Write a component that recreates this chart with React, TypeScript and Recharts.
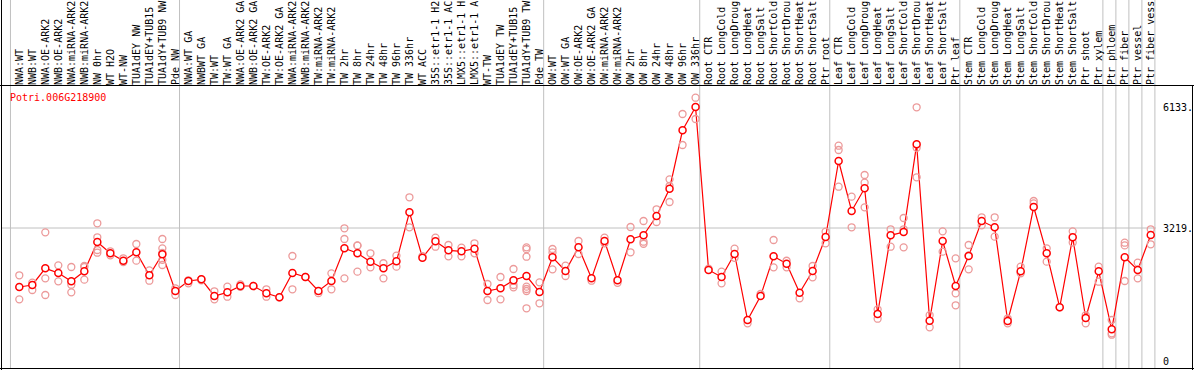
import React from 'react'
import { ComposedChart, Line, XAxis, YAxis, ReferenceLine } from 'recharts'

const geneId = 'Potri.006G218900'

// sample labels as far as the header shows them (14 characters at most)
const categories = [
  'NWA:WT', 'NWB:WT', 'NWA:OE-ARK2', 'NWB:OE-ARK2', 'NWA:miRNA-ARK2', 'NWB:miRNA-ARK2', 'NW 0hr', 'WT H2O', 'WT-NW',
  'TUA1dEY NW', 'TUA1dEY+TUB15', 'TUA1dY+TUB9 NW', 'Pde NW',
  'NWA:WT GA', 'NWBWT GA', 'TW:WT', 'TW:WT GA', 'NWA:OE-ARK2 GA', 'NWB:OE-ARK2 GA', 'TW:OE-ARK2', 'TW:OE-ARK2 GA',
  'NWA:miRNA-ARK2', 'NWB:miRNA-ARK2', 'TW:miRNA-ARK2', 'TW:miRNA-ARK2', 'TW 2hr', 'TW 8hr', 'TW 24hr', 'TW 48hr',
  'TW 96hr', 'TW 336hr', 'WT ACC', '35S::etr1-1 H2', '35S::etr1-1 AC', 'LMX5::etr1-1 H', 'LMX5::etr1-1 A', 'WT-TW',
  'TUA1dEY TW', 'TUA1dEY+TUB15', 'TUA1dY+TUB9 TW', 'Pde TW',
  'OW:WT', 'OW:WT GA', 'OW:OE-ARK2', 'OW:OE-ARK2 GA', 'OW:miRNA-ARK2', 'OW:miRNA-ARK2', 'OW 2hr', 'OW 8hr', 'OW 24hr',
  'OW 48hr', 'OW 96hr', 'OW 336hr',
  'Root CTR', 'Root LongCold', 'Root LongDroug', 'Root LongHeat', 'Root LongSalt', 'Root ShortCold', 'Root ShortDrou',
  'Root ShortHeat', 'Root ShortSalt', 'Ptr root',
  'Leaf CTR', 'Leaf LongCold', 'Leaf LongDroug', 'Leaf LongHeat', 'Leaf LongSalt', 'Leaf ShortCold', 'Leaf ShortDrou',
  'Leaf ShortHeat', 'Leaf ShortSalt', 'Ptr leaf',
  'Stem CTR', 'Stem LongCold', 'Stem LongDroug', 'Stem LongHeat', 'Stem LongSalt', 'Stem ShortCold', 'Stem ShortDrou',
  'Stem ShortHeat', 'Stem ShortSalt', 'Ptr shoot', 'Ptr xylem',
  'Ptr phloem', 'Ptr fiber', 'Ptr vessel', 'Ptr fiber vess',
]

// number of samples in each block separated by a grey line
const groupSizes = [13, 28, 12, 10, 10, 11, 1, 1, 1, 1]

const means = [
  1798, 1847, 2248, 2135, 1935, 2176, 2882, 2610, 2432, 2634, 2080, 2586, 1702,
  1943, 1984, 1582, 1670, 1822, 1822, 1647, 1550, 2135, 2039, 1702, 1943, 2730, 2610, 2408, 2248, 2416, 3597, 2504,
  2899, 2682, 2658, 2721, 1702, 1767, 1960, 2063, 1678,
  2513, 2184, 2754, 2007, 2906, 1960, 2947, 3043, 3508, 4165, 5571, 6133,
  2208, 2039, 2593, 1004, 1582, 2537, 2359, 1661, 2184, 3002,
  4832, 3628, 4175, 1148, 3043, 3123, 5234, 987, 2906, 1822,
  2545, 3388, 3236, 980, 2176, 3725, 2610, 1310, 2995, 1052, 2176,
  780, 2513, 2208, 3051,
]

const replicates = [
  [2080, 1502], [1903, 1726], [3115, 2007, 1606], [2320, 1935], [2280, 1854, 1670], [2304, 2280, 1975],
  [3332, 2995, 2689, 2624], [2658, 2560], [2490, 2400], [2834, 2432], [2200, 1950], [2954, 2730, 2620, 2450, 2328],
  [1767, 1606],
  [1887, 1960], [1984, 1960], [1695, 1502], [1806, 1565], [1860, 1800], [1822], [1743, 1565], [1550], [2545, 1743],
  [2039], [1650], [2128, 1743], [3212, 2954, 2007], [2800, 2794, 2168], [2610, 2272], [2370, 2007], [2552, 2288],
  [3958, 3236], [2540], [2985, 2769], [2810, 2537], [2745, 2537], [2851, 2610], [1871, 1486], [2039, 1502],
  [2232, 1847, 1790], [2754, 2710, 2528, 1806, 1750, 1702, 1286], [1911, 1406],
  [2713, 2630, 2224], [2311, 2063], [2906, 2593], [1950], [2985, 2850], [1900], [3243, 2634], [3388, 2889, 2840],
  [3669, 3364], [4391, 4230, 3845], [5964, 5217], [6356, 5843],
  [2240], [2168, 1887], [2721, 2500], [924], [1630], [2930, 2272], [2430, 2272], [1526], [2304, 2032], [3130, 2851],
  [5200, 5097, 4213], [3973, 3236], [4495, 4310, 3717], [1261, 1035], [3188, 2769], [3460, 3188, 2754],
  [6125, 5150, 4440], [1120, 828], [3139, 2649], [2489, 1647, 1358],
  [2810, 2560, 2224], [3477, 3284], [3477, 3010], [1040, 924], [2288, 2130], [3869, 3810], [2730, 2408], [1310],
  [3139, 2870], [1120, 924], [2288, 1926],
  [1004, 684, 650], [2865, 2800, 1943], [2384, 2007], [3188, 2827],
]

const yTicks = [0, 3219, 6133]

const W = 1194
const H = 370
const HEADER = 86
const PLOT_LEFT = 1
const PLOT_RIGHT = 1156
const STEP = 13.005
const FIRST_X = 19.3
const MONO = '"DejaVu Sans Mono", "Liberation Mono", monospace'

const maxReps = Math.max(...replicates.map((r) => r.length))
const repKeys = Array.from({ length: maxReps }, (_, k) => `r${k}`)

const data = categories.map((name, idx) => {
  const row: Record<string, any> = { idx, name, mean: means[idx] }
  repKeys.forEach((key, k) => {
    row[key] = replicates[idx][k] ?? null
  })
  return row
})

const boundaries: number[] = [0]
groupSizes.forEach((n) => boundaries.push(boundaries[boundaries.length - 1] + n))

const xMin = -(FIRST_X - PLOT_LEFT) / STEP
const xMax = xMin + (PLOT_RIGHT - PLOT_LEFT) / STEP
// value scale: 0 sits at y=361.7, 3219 at y=228
const pxPerUnit = (361.7 - 228) / 3219
const yMax = 361.7 / pxPerUnit
const yMin = -(H - 1 - 361.7) / pxPerUnit

function HeaderTick(props: any) {
  const { x, payload } = props
  const tx = x + 3.5
  const ty = HEADER - 1
  return (
    <text
      x={tx}
      y={ty}
      transform={`rotate(-90, ${tx}, ${ty})`}
      textAnchor="start"
      fontSize={10}
      fontFamily={MONO}
      fill="#000"
    >
      {categories[payload.value]}
    </text>
  )
}

const meanDot = { r: 3.5, stroke: '#ff0000', strokeWidth: 1.5, fill: '#fff' }
const repDot = { r: 3.5, stroke: '#ec9a9a', strokeWidth: 1.3, fill: 'none' }

export default function App() {
  return (
    <div style={{ position: 'absolute', left: 0, top: 0, width: W, height: H, background: '#fff' }}>
      <ComposedChart
        width={W}
        height={H}
        data={data}
        margin={{ top: 0, right: 0, left: PLOT_LEFT, bottom: 1 }}
      >
        <XAxis
          dataKey="idx"
          type="number"
          orientation="top"
          mirror
          domain={[xMin, xMax]}
          allowDataOverflow
          ticks={categories.map((_, i) => i)}
          interval={0}
          tick={<HeaderTick />}
          axisLine={false}
          tickLine={false}
        />
        <YAxis
          orientation="right"
          width={W - PLOT_RIGHT}
          domain={[yMin, yMax]}
          allowDataOverflow
          ticks={yTicks}
          tickFormatter={(v: number) => (v === 0 ? '0' : `${v}.`)}
          axisLine={false}
          tickLine={false}
          tickMargin={1}
          tick={{ fontSize: 10, fontFamily: MONO, fill: '#000' }}
        />
        <ReferenceLine y={3219} stroke="#c0c0c0" strokeWidth={1} />
        {boundaries.map((b) => (
          <ReferenceLine key={`b${b}`} x={b - 0.68} stroke="#c0c0c0" strokeWidth={1} />
        ))}
        {repKeys.map((key) => (
          <Line
            key={key}
            dataKey={key}
            stroke="none"
            dot={repDot}
            activeDot={false}
            isAnimationActive={false}
          />
        ))}
        <Line
          dataKey="mean"
          stroke="#ff0000"
          strokeWidth={1.2}
          dot={meanDot}
          activeDot={false}
          isAnimationActive={false}
        />
      </ComposedChart>
      <svg
        width={W}
        height={H}
        style={{ position: 'absolute', left: 0, top: 0, pointerEvents: 'none' }}
      >
        <line x1={0} x2={W} y1={HEADER - 0.5} y2={HEADER - 0.5} stroke="#000" strokeWidth={1} />
        <line x1={0} x2={W} y1={H - 1.5} y2={H - 1.5} stroke="#000" strokeWidth={1} />
        <line x1={1.5} x2={1.5} y1={0} y2={H} stroke="#000" strokeWidth={1} />
        <line x1={W - 1.5} x2={W - 1.5} y1={HEADER} y2={H} stroke="#000" strokeWidth={1} />
        <text x={10} y={101} fontSize={10} fontFamily={MONO} fill="#ff0000">
          {geneId}
        </text>
      </svg>
    </div>
  )
}
